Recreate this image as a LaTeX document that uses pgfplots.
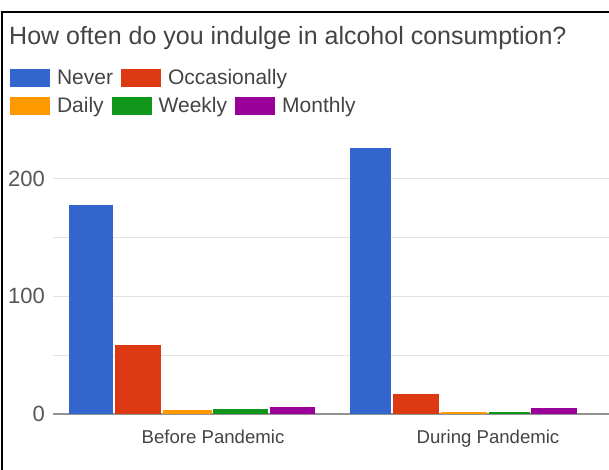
\documentclass[border=0pt]{standalone}
\usepackage{fontspec}
\setmainfont{Liberation Sans}
\usepackage{pgfplots}
\pgfplotsset{compat=1.18}
\definecolor{gBlue}{HTML}{3366CC}
\definecolor{gRed}{HTML}{DC3912}
\definecolor{gOrange}{HTML}{FF9900}
\definecolor{gGreen}{HTML}{109618}
\definecolor{gPurple}{HTML}{990099}
\definecolor{txt}{HTML}{444444}
\definecolor{gridc}{HTML}{E2E2E2}
\begin{document}
\begin{tikzpicture}
\path[use as bounding box] (0pt,0pt) rectangle (609pt,-470pt);
\fill[white] (0pt,0pt) rectangle (609pt,-470pt);
\draw[black, line width=1.6pt] (2pt,-472pt) -- (2pt,-12pt) -- (611pt,-12pt);
\node[anchor=base west, inner sep=0pt, text=txt, font=\fontsize{25}{30}\selectfont] at (9pt,-45pt) {How often do you indulge in alcohol consumption?};
\pgfplotsset{
  swatch/.style={legend image code/.code={\fill[##1, draw=none] (0pt,-9pt) rectangle (40pt,9pt);}},
  common/.style={
    at={(53pt,-414pt)}, anchor=south west,
    scale only axis, width=556pt, height=270.7pt,
    xmin=53, xmax=609, ymin=0, ymax=230,
    legend columns=-1,
    legend style={draw=none, fill=none, inner sep=0pt, outer sep=0pt,
      nodes={inner sep=0pt, text=txt},
      font=\fontsize{21}{25}\selectfont,
      /tikz/every odd column/.append style={column sep=7pt},
      /tikz/every even column/.append style={column sep=8pt}},
  }
}
\begin{axis}[common,
  axis line style={draw=none},
  ybar, bar shift=0pt,
  xtick={213,488}, xticklabels={Before Pandemic, During Pandemic},
  major tick length=0pt, minor tick length=0pt,
  tick style={draw=none},
  ytick={100,200}, minor ytick={50,150},
  extra y ticks={0},
  extra y tick style={grid=major, major grid style={draw=gray!85, line width=1.4pt}},
  ymajorgrids, yminorgrids,
  major grid style={draw=gridc, line width=1pt},
  minor grid style={draw=gridc, line width=1pt},
  /pgf/number format/assume math mode=true,
  yticklabel style={font=\fontsize{22}{26}\selectfont, text=txt!90!white, inner sep=0pt, anchor=east, xshift=-8pt},
  xticklabel style={font=\fontsize{18.6}{22}\selectfont, text=txt, inner sep=0pt, anchor=north, yshift=-16pt},
  legend style={at={(-0.0773,1.1378)}, anchor=west},
]
% Before Pandemic
\addplot[forget plot, fill=gBlue, draw=none, bar width=44] coordinates {(91,178)};
\addplot[forget plot, fill=gRed, draw=none, bar width=46] coordinates {(138,59)};
\addplot[forget plot, fill=gOrange, draw=none, bar width=49] coordinates {(187.5,3)};
\addplot[forget plot, fill=gGreen, draw=none, bar width=55] coordinates {(240,4)};
\addplot[forget plot, fill=gPurple, draw=none, bar width=45] coordinates {(292.5,6)};
% During Pandemic
\addplot[forget plot, fill=gBlue, draw=none, bar width=41] coordinates {(370,226)};
\addplot[forget plot, fill=gRed, draw=none, bar width=46] coordinates {(416,17)};
\addplot[forget plot, fill=gOrange, draw=none, bar width=46] coordinates {(464,2)};
\addplot[forget plot, fill=gGreen, draw=none, bar width=41] coordinates {(509.5,2)};
\addplot[forget plot, fill=gPurple, draw=none, bar width=46] coordinates {(554,5)};
\addlegendimage{swatch, fill=gOrange}
\addlegendentry{Daily}
\addlegendimage{swatch, fill=gGreen}
\addlegendentry{Weekly}
\addlegendimage{swatch, fill=gPurple}
\addlegendentry{Monthly}
\end{axis}
\begin{axis}[common, hide axis,
  legend style={at={(-0.0773,1.2412)}, anchor=west},
]
\addlegendimage{swatch, fill=gBlue}
\addlegendentry{Never}
\addlegendimage{swatch, fill=gRed}
\addlegendentry{Occasionally}
\end{axis}
\end{tikzpicture}
\end{document}
